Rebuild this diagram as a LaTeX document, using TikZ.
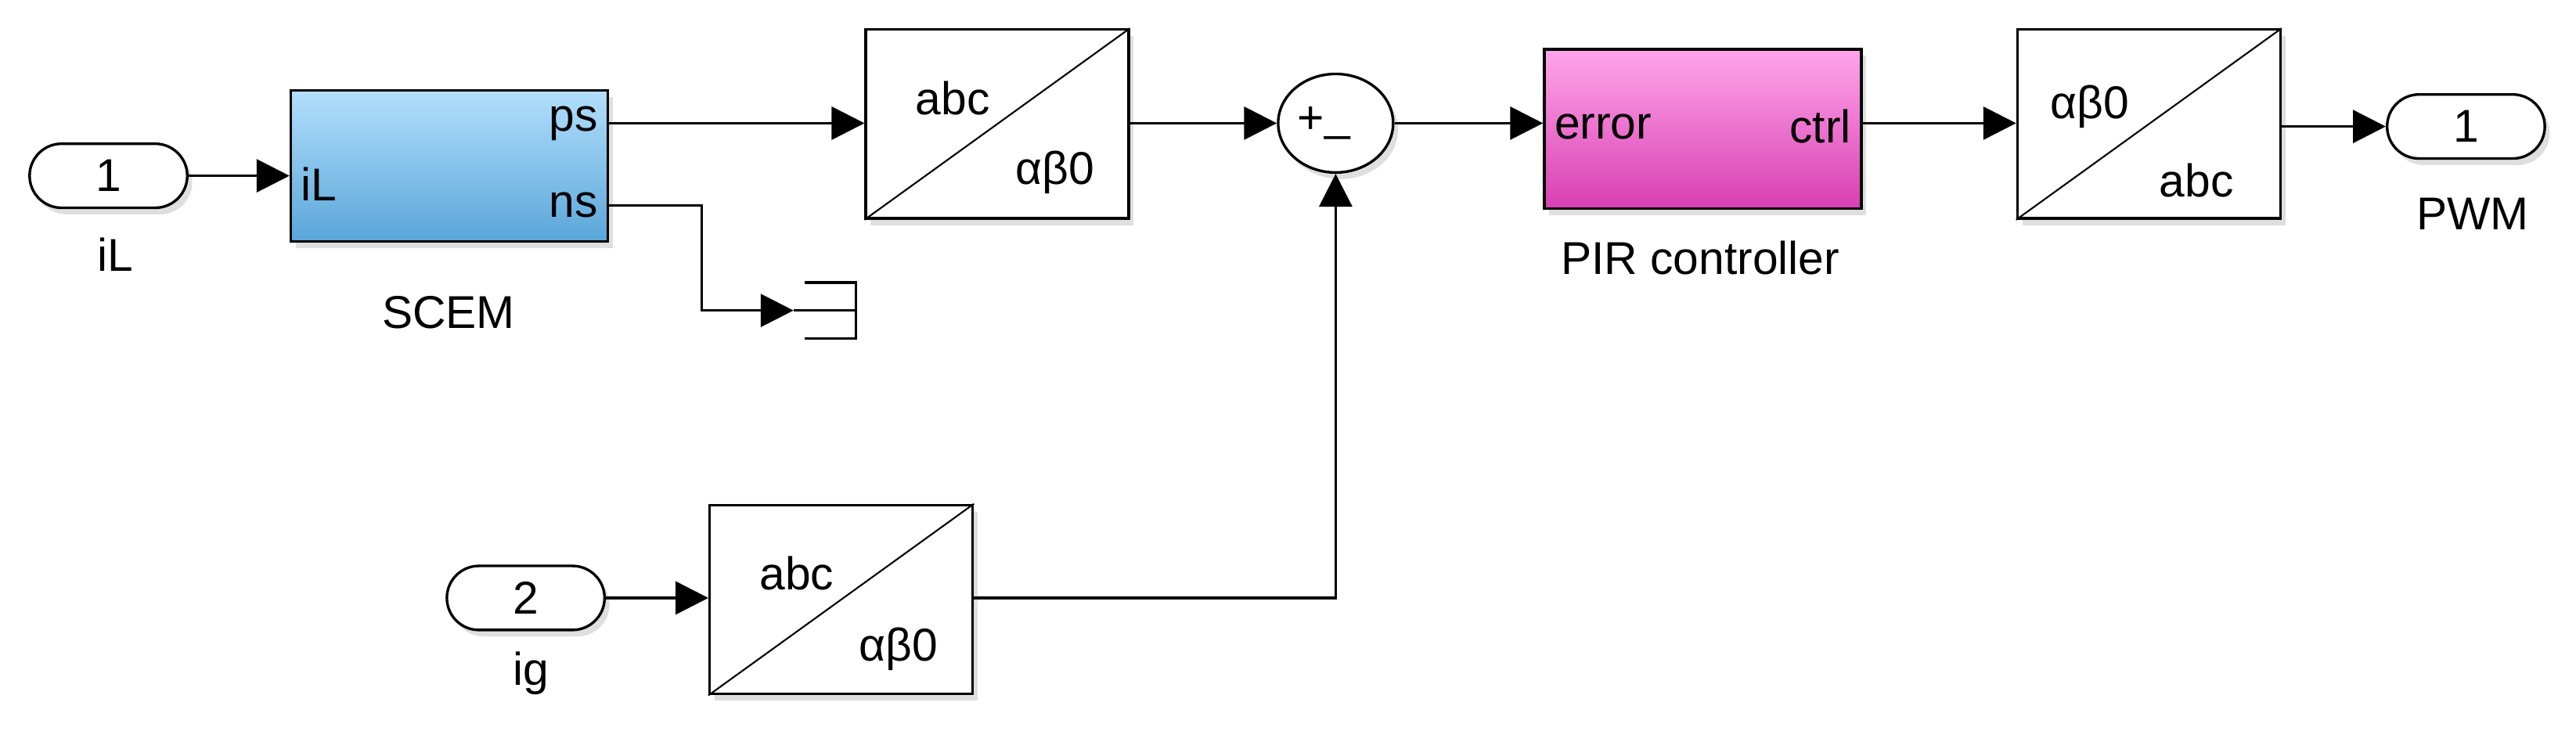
\documentclass[tikz,border=0pt]{standalone}
\usepackage{fontspec}
\setmainfont{Liberation Sans}
\usetikzlibrary{arrows.meta,shapes.misc,shapes.geometric,shadows}
\definecolor{blueT}{HTML}{B3DFFC}
\definecolor{blueB}{HTML}{5AA6D9}
\definecolor{pinkT}{HTML}{FFA6EA}
\definecolor{pinkB}{HTML}{D83FB2}
\begin{document}
\begin{tikzpicture}[x=0.5pt,y=-0.5pt,
  font=\fontsize{14}{16}\selectfont,
  sig/.style={line width=0.8pt,-{Triangle[length=10pt,width=10pt]}},
  blk/.style={draw,line width=0.8pt,fill=white,inner sep=0pt,drop shadow={shadow xshift=1.5pt,shadow yshift=-2pt,opacity=0.25}},
  port/.style={blk,rounded rectangle,minimum width=48pt,minimum height=19.5pt},
  tf/.style={blk,minimum width=80pt,minimum height=57.5pt},
  lbl/.style={font=\fontsize{14}{16}\selectfont}]
\useasboundingbox (0,0) rectangle (1568,445);
% inports / outport
\node[port] (in1) at (66,107) {1};
\node[lbl] (l1) at (70,155) {iL};
\node[port] (in2) at (320,364) {2};
\node[lbl] (l2) at (323,410) {ig};
\node[port] (out1) at (1501,77) {1};
\node[lbl] (l3) at (1505,130) {PWM};
% SCEM
\node[blk,minimum width=96.5pt,minimum height=46pt,top color=blueT,bottom color=blueB] (scem) at (273.5,101) {};
\node[lbl,anchor=west] at (scem.west|-0,112) {iL};
\node[lbl,anchor=east] at (scem.east|-0,75) {ps};
\node[lbl,anchor=east] at (scem.east|-0,125) {ns};
\node[lbl] at (273,190) {SCEM};
% abc -> ab0 blocks
\node[tf] (t1) at (607,75.5) {};
\draw[line width=0.5pt] (t1.south west) -- (t1.north east);
\node[lbl] at (580,60) {abc};
\node[lbl] at (642,105) {αβ0};
\node[tf] (t2) at (512,365) {};
\draw[line width=0.5pt] (t2.south west) -- (t2.north east);
\node[lbl] at (485,349) {abc};
\node[lbl] at (547,395) {αβ0};
% sum
\node[blk,ellipse,minimum width=35pt,minimum height=30pt] (sum) at (813,75) {};
\node[lbl,inner sep=0pt] at (798,73) {+};
\node[lbl,inner sep=0pt] at (814,82) {\_};
% PIR
\node[blk,minimum width=96.5pt,minimum height=48.5pt,top color=pinkT,bottom color=pinkB] (pir) at (1036.5,78.5) {};
\node[lbl,anchor=west] at (pir.west|-0,77) {error};
\node[lbl,anchor=east] at (pir.east|-0,77) {ctrl};
\node[lbl] at (1035,157) {PIR controller};
% ab0 -> abc
\node[tf] (t3) at (1308,75.5) {};
\draw[line width=0.5pt] (t3.south west) -- (t3.north east);
\node[lbl] at (1272,65) {αβ0};
\node[lbl] at (1337,110) {abc};
% terminator
\coordinate (term) at (483,189);
\draw[line width=0.8pt] (490,172) -- (521,172) -- (521,206) -- (490,206);
\draw[line width=0.8pt] (483,189) -- (521,189);
% connections
\draw[sig] (in1.east) -- (scem.west|-in1.east);
\draw[sig] (scem.east|-0,75) -- (t1.west|-0,75);
\draw[sig] (scem.east|-0,125) -- (427,125) -- (427,189) -- (term);
\draw[sig] (t1.east|-0,75) -- (sum.west);
\draw[sig] (sum.east) -- (pir.west|-sum.east);
\draw[sig] (pir.east|-0,75) -- (t3.west|-0,75);
\draw[sig] (t3.east|-0,77) -- (out1.west);
\draw[sig] (in2.east) -- (t2.west|-in2.east);
\draw[sig] (t2.east|-0,364) -- (813,364) -- (sum.south);
\end{tikzpicture}
\end{document}
